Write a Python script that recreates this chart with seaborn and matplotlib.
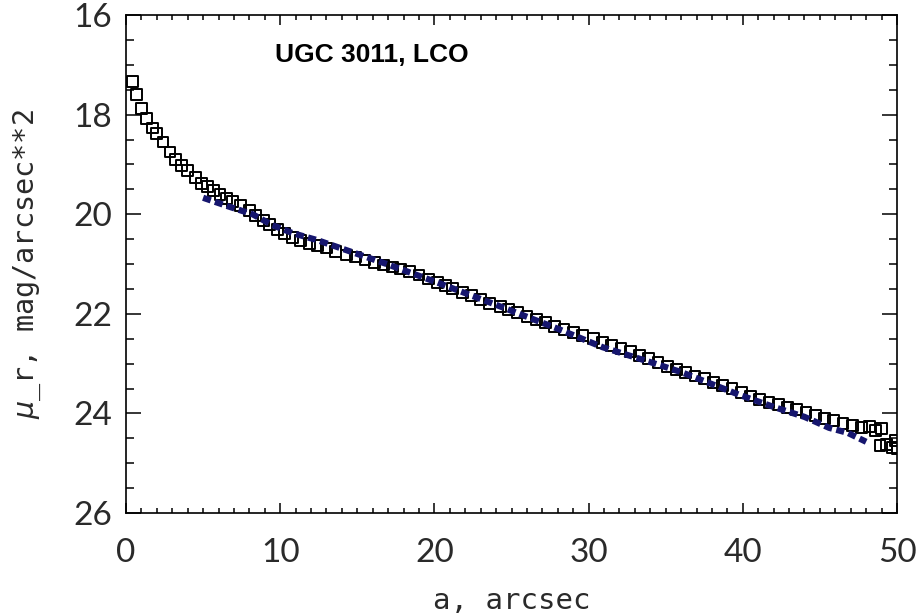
import numpy as np
import pandas as pd
import matplotlib
matplotlib.use("Agg")
import matplotlib.pyplot as plt
from matplotlib.ticker import MultipleLocator
import seaborn as sns

# ---- data ----
sq_a = [0.4, 0.7, 1.0, 1.35, 1.7, 2.0, 2.4, 2.85, 3.2, 3.6, 4.0, 4.5, 4.9, 5.3, 5.7,
        6.1, 6.5, 6.9, 7.4, 8.0, 8.4, 8.9, 9.3, 9.8, 10.3, 10.8, 11.3, 11.9, 12.4,
        13.0, 13.6, 14.3, 14.9, 15.5, 16.1, 16.7, 17.3, 17.8, 18.4, 19.0, 19.6,
        20.2, 20.7, 21.2, 21.8, 22.4, 23.0, 23.6, 24.3, 24.8, 25.4, 26.0, 26.6,
        27.2, 27.8, 28.4, 29.0, 29.6, 30.3, 30.9, 31.5, 32.1, 32.7, 33.3, 33.9,
        34.5, 35.1, 35.7, 36.3, 36.9, 37.5, 38.1, 38.7, 39.3, 39.9, 40.5, 41.1,
        41.7, 42.3, 42.9, 43.5, 44.1, 44.7, 45.3, 45.9, 46.5, 47.1, 47.7, 48.2,
        48.6, 49.0, 48.9, 49.3, 49.7, 50.0, 49.9]
sq_mu = [17.34, 17.6, 17.87, 18.07, 18.27, 18.38, 18.55, 18.75, 18.9, 19.02, 19.12,
         19.27, 19.38, 19.45, 19.53, 19.6, 19.68, 19.75, 19.83, 19.93, 20.02, 20.12,
         20.2, 20.3, 20.38, 20.46, 20.52, 20.58, 20.63, 20.68, 20.75, 20.82, 20.86,
         20.92, 20.97, 21.02, 21.06, 21.1, 21.15, 21.22, 21.3, 21.37, 21.43, 21.5,
         21.57, 21.64, 21.71, 21.79, 21.86, 21.92, 21.98, 22.05, 22.12, 22.17,
         22.25, 22.32, 22.38, 22.43, 22.5, 22.58, 22.63, 22.7, 22.76, 22.83, 22.9,
         22.97, 23.05, 23.12, 23.18, 23.25, 23.3, 23.38, 23.44, 23.5, 23.58, 23.65,
         23.72, 23.78, 23.82, 23.88, 23.92, 23.98, 24.05, 24.1, 24.15, 24.2, 24.25,
         24.28, 24.27, 24.35, 24.3, 24.65, 24.62, 24.68, 24.7, 24.55]

fit_a = [5.0, 6.7, 8.2, 9.5, 10.8, 12.4, 13.9, 16.9, 20.0, 24.0, 28.0, 30.9, 34.0,
         36.0, 39.8, 42.0, 44.0, 45.6, 46.8, 48.0]
fit_mu = [19.67, 19.85, 20.0, 20.22, 20.38, 20.52, 20.68, 21.0, 21.35, 21.82, 22.3,
          22.67, 22.97, 23.17, 23.63, 23.87, 24.07, 24.29, 24.39, 24.57]

x_ticks = [0, 10, 20, 30, 40, 50]
y_ticks = [16, 18, 20, 22, 24, 26]
title_text = "UGC 3011, LCO"
x_label = "a, arcsec"
y_label = r"$\mu$_r, mag/arcsec**2"

sq_df = pd.DataFrame({"a": sq_a, "mu": sq_mu})
fit_df = pd.DataFrame({"a": fit_a, "mu": fit_mu})

sns.set_theme(style="ticks")
plt.rcParams["font.family"] = ["Lato", "DejaVu Sans"]

fig = plt.figure(figsize=(9.22, 6.16), dpi=100)
ax = fig.add_axes([126 / 922, 1 - 513 / 616, (897 - 126) / 922, (513 - 15) / 616])

sns.scatterplot(data=sq_df, x="a", y="mu", marker="s", s=7.8 ** 2,
                facecolor="none", edgecolor="black", linewidth=1.4, ax=ax, zorder=2)
sns.lineplot(data=fit_df, x="a", y="mu", color="#16166e", linewidth=4.5,
             linestyle=(0, (1.3, 0.7)), sort=False, estimator=None, ax=ax, zorder=3)

ax.set_xlim(0, 50)
ax.set_ylim(26, 16)
ax.set_xticks(x_ticks)
ax.set_yticks(y_ticks)
ax.xaxis.set_minor_locator(MultipleLocator(1))
ax.yaxis.set_minor_locator(MultipleLocator(0.5))

txt_col = "#2a2a2a"
tick_font = dict(family=["Lato", "DejaVu Sans"], weight="normal", size=24, color=txt_col)
ax.set_xticklabels([str(t) for t in x_ticks], fontdict=tick_font)
ax.set_yticklabels([str(t) for t in y_ticks], fontdict=tick_font)

ax.tick_params(axis="both", which="both", direction="in", top=True, right=True,
               color="black", width=1.1)
ax.tick_params(axis="x", which="major", length=7.5, pad=18)
ax.tick_params(axis="x", which="minor", length=3.8)
ax.tick_params(axis="y", which="major", length=11, pad=10)
ax.tick_params(axis="y", which="minor", length=6)

for sp in ax.spines.values():
    sp.set_linewidth(1.2)
    sp.set_color("black")

lab_font = ["DejaVu Sans Mono", "DejaVu Sans"]
ax.set_xlabel(x_label, fontsize=21, family=lab_font, color=txt_col, labelpad=14)
ax.set_ylabel(y_label, fontsize=20.5, family=lab_font, color=txt_col, labelpad=22)

ax.text(9.66, 16.8, title_text, ha="left", va="center", fontsize=19,
        fontweight="bold", family=["Liberation Sans", "DejaVu Sans"], color="black")

fig.savefig("out.png", dpi=100)
